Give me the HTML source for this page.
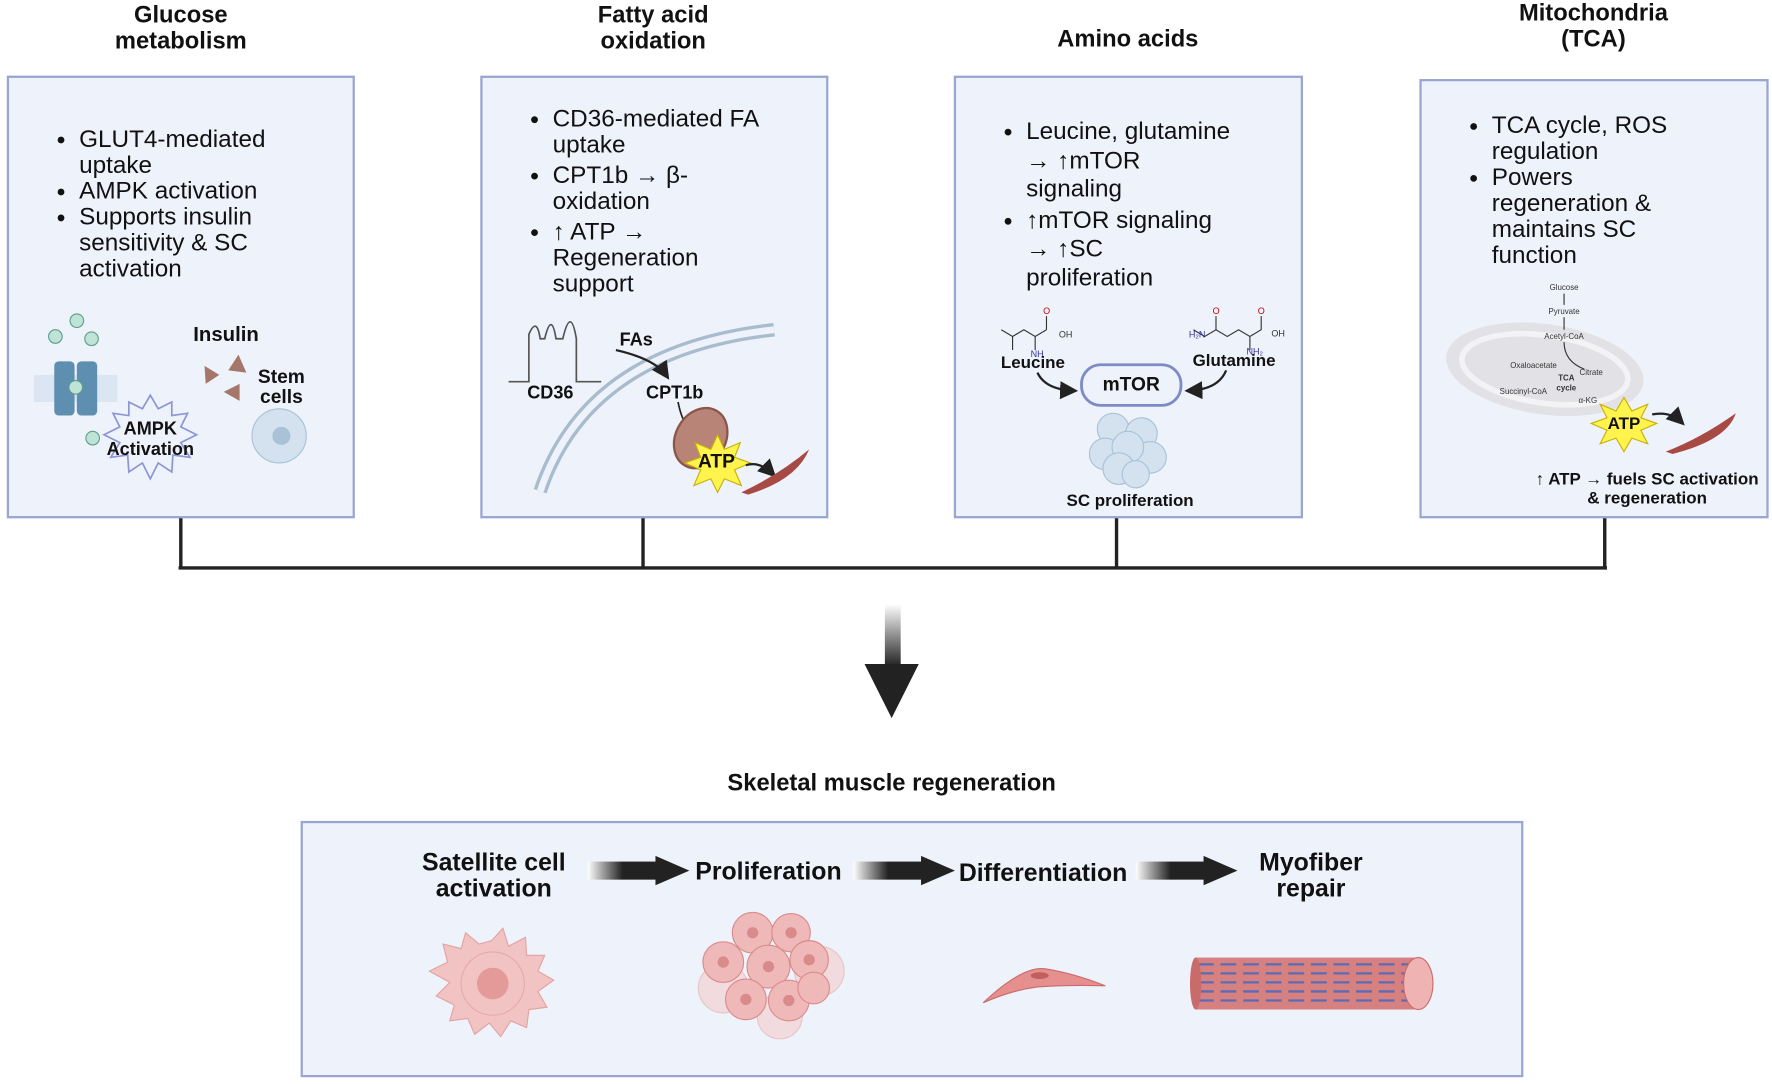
<!DOCTYPE html>
<html><head><meta charset="utf-8"><style>
html,body{margin:0;padding:0;background:#fff;width:1772px;height:1084px;overflow:hidden}
#w{position:absolute;left:0;top:0;width:1568px;height:960px;transform-origin:0 0;transform:scale(1.1301,1.1292);font-family:"Liberation Sans",Arial,sans-serif;color:#111}
.box{position:absolute;background:#eef2fa;border:2px solid #9aa6d2;box-sizing:border-box}
.t{position:absolute;font-weight:bold;font-size:21px;text-align:center;line-height:23px}
ul{position:absolute;margin:0;padding-left:24px;font-size:21.5px;line-height:23px;white-space:nowrap}
li{margin:0}
.s{position:absolute;font-weight:bold;font-size:16px;text-align:center;line-height:18px}
.b{position:absolute;font-weight:bold;font-size:22px;text-align:center;line-height:23px}
</style></head><body><div id="w">
<div class="t" style="left:60px;top:2px;width:200px">Glucose<br>metabolism</div>
<div class="t" style="left:478px;top:2px;width:200px">Fatty acid<br>oxidation</div>
<div class="t" style="left:898px;top:23px;width:200px">Amino acids</div>
<div class="t" style="left:1310px;top:0px;width:200px">Mitochondria<br>(TCA)</div>

<div class="box" style="left:6px;top:67px;width:308px;height:392px"></div>
<div class="box" style="left:425px;top:67px;width:308px;height:392px"></div>
<div class="box" style="left:844px;top:67px;width:309px;height:392px"></div>
<div class="box" style="left:1256px;top:70px;width:309px;height:389px"></div>

<ul style="left:46px;top:112px"><li>GLUT4-mediated<br>uptake</li><li>AMPK activation</li><li>Supports insulin<br>sensitivity &amp; SC<br>activation</li></ul>
<ul style="left:465px;top:94px"><li>CD36-mediated FA<br>uptake</li><li style="margin-top:4px">CPT1b → β-<br>oxidation</li><li style="margin-top:4px">↑ ATP →<br>Regeneration<br>support</li></ul>
<ul style="left:884px;top:104px;line-height:25.5px"><li>Leucine, glutamine<br>→ ↑mTOR<br>signaling</li><li style="margin-top:2px">↑mTOR signaling<br>→ ↑SC<br>proliferation</li></ul>
<ul style="left:1296px;top:100px"><li>TCA cycle, ROS<br>regulation</li><li>Powers<br>regeneration &amp;<br>maintains SC<br>function</li></ul>

<svg style="position:absolute;left:0;top:0" width="1568" height="960">
<defs>
<linearGradient id="g1" x1="0" y1="0" x2="0" y2="1"><stop offset="0" stop-color="#fff"/><stop offset="1" stop-color="#222"/></linearGradient>
<linearGradient id="g2" x1="0" y1="0" x2="1" y2="0"><stop offset="0" stop-color="#fff"/><stop offset="0.5" stop-color="#222"/></linearGradient>
<marker id="ah" markerWidth="8" markerHeight="8" refX="6" refY="4" orient="auto"><path d="M0,0 L8,4 L0,8z" fill="#222"/></marker>
</defs>
<circle cx="68" cy="284" r="6" fill="#bfe3d6" stroke="#5aa08a"/><circle cx="49" cy="298" r="6" fill="#bfe3d6" stroke="#5aa08a"/><circle cx="81" cy="300" r="6" fill="#bfe3d6" stroke="#5aa08a"/>
<rect x="30" y="332" width="74" height="24" fill="#dbe6f2"/>
<rect x="48" y="320" width="18" height="48" rx="4" fill="#5f8fb0"/><rect x="68" y="320" width="18" height="48" rx="4" fill="#5f8fb0"/>
<circle cx="67" cy="343" r="6" fill="#bfe3d6" stroke="#5aa08a"/><circle cx="82" cy="388" r="6" fill="#bfe3d6" stroke="#5aa08a"/>
<polygon points="133,350 140,362 152,356 152,368 166,366 160,378 174,385 160,392 168,405 153,403 152,418 140,410 133,424 126,410 114,418 113,403 98,405 106,392 92,385 106,378 100,366 114,368 114,356 126,362" fill="#eef2fa" stroke="#8b96d4" stroke-width="1.5"/>
<polygon points="181,324 194,332 182,340" fill="#a5766a"/><polygon points="211,314 218,330 202,328" fill="#a5766a"/><polygon points="212,340 212,355 198,347" fill="#a5766a"/>
<circle cx="247" cy="386" r="24" fill="#d3e2ee" stroke="#a9c2d6"/><circle cx="249" cy="386" r="8" fill="#a9c2d6"/>
<path d="M478,435 Q520,310 685,292" stroke="#a9bccd" stroke-width="12" fill="none"/>
<path d="M478,435 Q520,310 685,292" stroke="#eef2fa" stroke-width="6" fill="none"/>
<path d="M450,338 L468,338 L468,296 Q475,280 478,300 L482,300 Q488,275 492,300 L498,300 Q505,270 510,300 L510,338 L532,338" stroke="#555" fill="none" stroke-width="1.5"/>
<path d="M545,310 Q580,318 590,333" stroke="#222" stroke-width="2" fill="none" marker-end="url(#ah)"/>
<path d="M600,356 Q603,372 610,380" stroke="#222" stroke-width="1.5" fill="none" marker-end="url(#ah)"/>
<ellipse cx="620" cy="388" rx="22" ry="28" transform="rotate(30 620 388)" fill="#b88478" stroke="#8a564c" stroke-width="2"/>
<polygon points="635,385 641,398 655,392 650,405 664,410 650,416 656,430 641,424 635,436 629,424 614,430 620,416 606,410 620,405 615,392 629,398" fill="#fff34d" stroke="#c8b000"/>
<path d="M660,412 Q672,408 684,420" stroke="#222" stroke-width="2" fill="none" marker-end="url(#ah)"/>
<path d="M656,436 Q690,420 716,398 Q705,425 662,438z" fill="#a84a44"/>
<path d="M886,292 L896,298 L906,292 L916,298 L926,292 M896,298 L896,310 M926,292 L926,280 M916,298 L916,310" stroke="#333" fill="none"/>
<path d="M1056,292 L1066,298 L1076,292 L1086,298 L1096,292 L1106,298 L1116,292 L1116,280 M1076,292 L1076,280 M1106,298 L1106,310" stroke="#333" fill="none"/>
<text x="937" y="299" font-size="8" fill="#333">OH</text><text x="923" y="278" font-size="8" fill="#c00">O</text><text x="912" y="316" font-size="8" fill="#339">NH</text>
<text x="1125" y="298" font-size="8" fill="#333">OH</text><text x="1052" y="299" font-size="8" fill="#339">H₂N</text><text x="1073" y="278" font-size="8" fill="#c00">O</text><text x="1113" y="278" font-size="8" fill="#c00">O</text><text x="1103" y="314" font-size="8" fill="#339">NH₂</text>
<rect x="957" y="323" width="88" height="36" rx="17" fill="#eef2fa" stroke="#7d8bc6" stroke-width="2.5"/>
<path d="M918,330 Q925,345 950,346" stroke="#222" stroke-width="2" fill="none" marker-end="url(#ah)"/>
<path d="M1085,328 Q1078,345 1052,346" stroke="#222" stroke-width="2" fill="none" marker-end="url(#ah)"/>
<g fill="#d3e2ee" stroke="#a9c2d6"><circle cx="985" cy="380" r="14"/><circle cx="1010" cy="384" r="14"/><circle cx="978" cy="402" r="14"/><circle cx="1018" cy="405" r="14"/><circle cx="998" cy="396" r="14"/><circle cx="990" cy="415" r="14"/><circle cx="1005" cy="420" r="12"/></g>
<ellipse cx="1367" cy="327" rx="88" ry="40" transform="rotate(8 1367 327)" fill="#e2e2e6"/>
<ellipse cx="1367" cy="327" rx="74" ry="30" transform="rotate(8 1367 327)" fill="none" stroke="#f3f3f5" stroke-width="5"/>
<g font-size="7" fill="#333" text-anchor="middle"><text x="1384" y="257">Glucose</text><text x="1384" y="278">Pyruvate</text><text x="1384" y="300">Acetyl-CoA</text><text x="1357" y="326">Oxaloacetate</text><text x="1408" y="332">Citrate</text><text x="1348" y="349">Succinyl-CoA</text><text x="1405" y="357">α-KG</text><text x="1386" y="337" font-weight="bold">TCA</text><text x="1386" y="346" font-weight="bold">cycle</text></g>
<path d="M1384,260 V270 M1384,281 V292 M1384,303 Q1384,320 1402,327" stroke="#333" fill="none"/>
<polygon points="1437,352 1444,364 1458,358 1452,370 1466,375 1452,381 1458,393 1444,388 1437,400 1430,388 1416,393 1422,381 1408,375 1422,370 1416,358 1430,364" fill="#fff34d" stroke="#c8b000"/>
<path d="M1462,367 Q1478,364 1488,374" stroke="#222" stroke-width="2" fill="none" marker-end="url(#ah)"/>
<path d="M1474,400 Q1505,388 1536,366 Q1528,390 1480,402z" fill="#a84a44"/>
<path d="M160,459 V503 M569,459 V503 M988,459 V503 M1420,459 V503 M158,503 H1422" stroke="#222" stroke-width="3" fill="none"/>
<rect x="783" y="535" width="14" height="55" fill="url(#g1)"/>
<polygon points="765,588 813,588 789,636" fill="#222"/>
<rect x="267" y="728" width="1080" height="225" fill="#eef2fa" stroke="#9aa6d2" stroke-width="2"/>
<g><rect x="520" y="763" width="62" height="16" fill="url(#g2)"/><polygon points="580,758 610,771 580,784" fill="#222"/>
<rect x="755" y="763" width="62" height="16" fill="url(#g2)"/><polygon points="815,758 845,771 815,784" fill="#222"/>
<rect x="1005" y="763" width="62" height="16" fill="url(#g2)"/><polygon points="1065,758 1095,771 1065,784" fill="#222"/></g>
<polygon points="435,833 445,822 450,838 465,830 466,846 482,846 476,860 490,868 476,878 484,892 468,894 466,910 452,904 443,918 433,906 420,916 414,902 398,904 402,890 386,882 398,870 380,860 396,852 392,836 408,840 412,826 424,836" fill="#f2c3c3" stroke="#e2a3a3"/>
<circle cx="436" cy="871" r="28" fill="none" stroke="#e6aaaa"/><circle cx="436" cy="871" r="14" fill="#e59a9a"/>
<g fill="#f3cccc" stroke="#e4a8a8"><circle cx="690" cy="900" r="20" opacity="0.6"/><circle cx="725" cy="860" r="22" opacity="0.6"/><circle cx="640" cy="875" r="22" opacity="0.6"/></g>
<g fill="#f0b9b9" stroke="#d98b8b"><circle cx="666" cy="826" r="18"/><circle cx="700" cy="826" r="17"/><circle cx="640" cy="852" r="18"/><circle cx="680" cy="856" r="19"/><circle cx="716" cy="850" r="17"/><circle cx="660" cy="885" r="18"/><circle cx="698" cy="886" r="18"/><circle cx="720" cy="875" r="14"/></g>
<g fill="#d98b8b"><circle cx="666" cy="826" r="5"/><circle cx="700" cy="826" r="5"/><circle cx="640" cy="852" r="5"/><circle cx="680" cy="856" r="5"/><circle cx="716" cy="850" r="5"/><circle cx="660" cy="885" r="5"/><circle cx="698" cy="886" r="5"/></g>
<path d="M870,888 Q905,855 925,858 Q950,862 978,873 Q945,872 918,874 Q895,877 870,888z" fill="#e58f8f" stroke="#c96b6b"/>
<ellipse cx="920" cy="864" rx="8" ry="3" fill="#c15f5f"/>
<rect x="1058" y="848" width="200" height="46" fill="#d78080"/>
<g stroke="#5b6bb6" stroke-width="2"><path d="M1060,854 H1250 M1060,862 H1250 M1060,870 H1250 M1060,878 H1250 M1060,886 H1250" stroke-dasharray="14 6"/></g>
<ellipse cx="1058" cy="871" rx="5" ry="23" fill="#c96b6b"/>
<ellipse cx="1255" cy="871" rx="13" ry="23" fill="#f0b3b3" stroke="#c96b6b"/>
</svg>

<div class="s" style="left:150px;top:287px;width:100px;font-size:18px">Insulin</div>
<div class="s" style="left:209px;top:325px;width:80px;font-size:17px">Stem<br>cells</div>
<div class="s" style="left:78px;top:372px;width:110px">AMPK<br>Activation</div>
<div class="s" style="left:447px;top:340px;width:80px">CD36</div>
<div class="s" style="left:528px;top:293px;width:70px">FAs</div>
<div class="s" style="left:557px;top:340px;width:80px">CPT1b</div>
<div class="s" style="left:604px;top:400px;width:60px;font-size:17px">ATP</div>
<div class="s" style="left:874px;top:313px;width:80px;font-size:15px">Leucine</div>
<div class="s" style="left:1047px;top:311px;width:90px;font-size:15px">Glutamine</div>
<div class="s" style="left:961px;top:332px;width:80px;font-size:17px">mTOR</div>
<div class="s" style="left:920px;top:435px;width:160px;font-size:15px">SC proliferation</div>
<div class="s" style="left:1412px;top:367px;width:50px;font-size:15px">ATP</div>
<div class="s" style="left:1345px;top:416px;width:225px;font-size:15px;line-height:17px">↑ ATP → fuels SC activation<br>&amp; regeneration</div>
<div class="t" style="left:589px;top:682px;width:400px">Skeletal muscle regeneration</div>
<div class="b" style="left:347px;top:752px;width:180px">Satellite cell<br>activation</div>
<div class="b" style="left:600px;top:760px;width:160px">Proliferation</div>
<div class="b" style="left:838px;top:761px;width:170px">Differentiation</div>
<div class="b" style="left:1090px;top:752px;width:140px">Myofiber<br>repair</div>
</div></body></html>
